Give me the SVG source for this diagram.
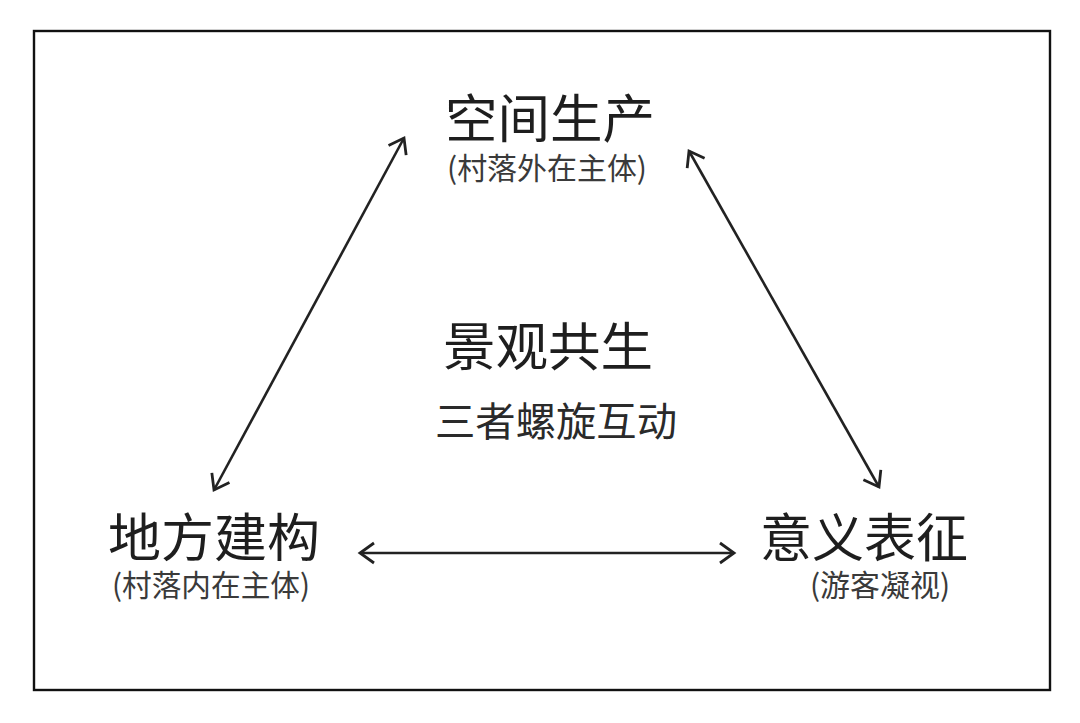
<svg xmlns="http://www.w3.org/2000/svg" width="1080" height="723" viewBox="0 0 1080 723">
<defs>
<style>
.t{font-family:"Noto Sans CJK SC","Noto Sans",sans-serif;fill:#1e1e1e;text-anchor:middle}
.big{font-size:52px}
.sub{font-size:30px;fill:#3a3a3a}
.mid{font-size:40px;fill:#2a2a2a}
.c{stroke:#222;stroke-width:2.6;fill:none}
</style>
<marker id="ah" viewBox="0 0 20 24" refX="17" refY="12" markerWidth="20" markerHeight="24" markerUnits="userSpaceOnUse" orient="auto-start-reverse">
<path d="M3,2 L17,12 L3,22" fill="none" stroke="#222" stroke-width="2.8" stroke-linejoin="miter"/>
</marker>
</defs>
<rect width="1080" height="723" fill="#fff"/>
<rect x="34" y="31" width="1016" height="659" fill="#fff" stroke="#111" stroke-width="2.4"/>
<g id="connectors">
<line class="c" x1="214" y1="490" x2="404" y2="138" marker-start="url(#ah)" marker-end="url(#ah)"/>
<line class="c" x1="689" y1="151" x2="879" y2="487" marker-start="url(#ah)" marker-end="url(#ah)"/>
<line class="c" x1="360" y1="553" x2="734" y2="553" marker-start="url(#ah)" marker-end="url(#ah)"/>
</g>
<g id="node-top">
<text class="t big" x="550" y="138" textLength="210" lengthAdjust="spacingAndGlyphs">空间生产</text>
<text class="t sub" x="547" y="179" textLength="200" lengthAdjust="spacingAndGlyphs">(村落外在主体)</text>
</g>
<g id="node-left">
<text class="t big" x="214" y="557" textLength="212" lengthAdjust="spacingAndGlyphs">地方建构</text>
<text class="t sub" x="211" y="596" textLength="198" lengthAdjust="spacingAndGlyphs">(村落内在主体)</text>
</g>
<g id="node-right">
<text class="t big" x="864" y="557" textLength="208" lengthAdjust="spacingAndGlyphs">意义表征</text>
<text class="t sub" x="880" y="596" textLength="140" lengthAdjust="spacingAndGlyphs">(游客凝视)</text>
</g>
<g id="node-center">
<text class="t big" x="548" y="366" textLength="210" lengthAdjust="spacingAndGlyphs">景观共生</text>
<text class="t mid" x="556" y="436" textLength="242" lengthAdjust="spacingAndGlyphs">三者螺旋互动</text>
</g>
</svg>
